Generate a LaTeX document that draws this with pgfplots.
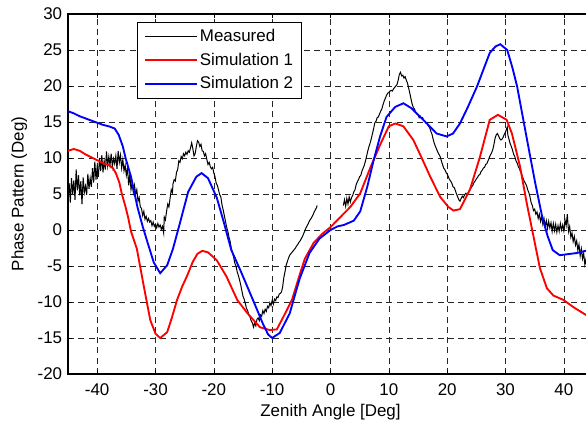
\documentclass[border=0pt]{standalone}
\usepackage{pgfplots}
\pgfplotsset{compat=1.18}
\usepackage{fontspec}
\setmainfont{Liberation Sans}

% Measured phase pattern, two segments (gap around boresight)
\pgfplotstableread{
x y
-45.0 4.0
-44.8 6.5
-44.6 3.8
-44.4 7.2
-44.2 5.0
-44.0 6.9
-43.8 4.2
-43.6 8.4
-43.4 5.5
-43.2 7.6
-43.0 4.8
-42.8 6.8
-42.6 3.6
-42.4 7.3
-42.2 5.2
-42.0 6.1
-41.8 4.9
-41.6 7.8
-41.4 5.7
-41.2 7.2
-41.0 6.0
-40.8 8.6
-40.6 6.6
-40.4 9.5
-40.2 7.0
-40.0 8.8
-39.8 7.4
-39.6 10.0
-39.4 8.2
-39.2 10.4
-39.0 8.0
-38.8 9.6
-38.6 8.4
-38.4 10.9
-38.2 8.9
-38.0 10.2
-37.8 9.0
-37.6 10.6
-37.4 8.8
-37.2 9.9
-37.0 9.2
-36.8 10.3
-36.6 8.5
-36.4 11.0
-36.2 9.4
-36.0 10.4
-35.8 8.6
-35.6 9.8
-35.4 8.2
-35.2 9.0
-35.0 7.6
-34.8 8.6
-34.6 6.2
-34.4 7.8
-34.2 5.6
-34.0 6.4
-33.8 5.2
-33.6 6.2
-33.4 5.0
-33.2 5.6
-33.0 4.0
-32.8 4.5
-32.6 3.2
-32.4 3.0
-32.2 2.0
-32.0 2.6
-31.8 1.5
-31.6 1.9
-31.4 1.2
-31.2 1.6
-31.0 1.1
-30.8 1.3
-30.6 0.6
-30.4 1.1
-30.2 0.5
-30.0 0.8
-29.8 0.3
-29.6 0.9
-29.4 0.4
-29.2 0.7
-29.0 0.1
-28.8 0.5
-28.6 -0.4
-28.5 1.8
-28.3 1.4
-28.1 2.6
-27.9 3.6
-27.7 3.2
-27.5 4.4
-27.3 5.6
-27.1 5.2
-27.0 6.4
-26.8 7.0
-26.6 6.8
-26.4 8.0
-26.2 8.4
-26.0 9.6
-25.8 9.4
-25.6 10.2
-25.4 9.9
-25.2 10.6
-25.0 10.3
-24.8 10.8
-24.6 10.5
-24.4 11.0
-24.2 10.8
-24.0 11.4
-23.8 12.1
-23.6 11.3
-23.4 10.3
-23.2 10.6
-23.0 11.6
-22.8 12.4
-22.6 12.2
-22.4 11.6
-22.2 11.9
-22.0 11.0
-21.8 10.9
-21.6 10.3
-21.4 10.6
-21.2 9.8
-21.0 9.1
-20.8 9.4
-20.6 8.8
-20.4 8.5
-20.2 8.7
-20.0 7.9
-19.8 7.4
-19.6 6.5
-19.4 6.2
-19.2 5.6
-19.0 4.9
-18.8 4.6
-18.6 3.5
-18.4 2.8
-18.2 2.0
-18.0 1.2
-17.8 0.4
-17.6 -0.2
-17.4 -1.0
-17.2 -1.6
-17.0 -2.6
-16.8 -3.1
-16.6 -3.8
-16.4 -4.6
-16.2 -5.0
-16.0 -5.8
-15.8 -6.3
-15.6 -6.9
-15.4 -7.6
-15.2 -8.4
-15.0 -9.2
-14.8 -9.6
-14.6 -10.2
-14.4 -10.9
-14.2 -11.2
-14.0 -11.8
-13.8 -12.1
-13.6 -12.6
-13.4 -12.9
-13.2 -13.5
-13.0 -12.9
-12.8 -13.3
-12.6 -12.4
-12.4 -12.2
-12.2 -12.6
-12.0 -11.8
-11.8 -12.0
-11.6 -11.2
-11.4 -11.6
-11.2 -11.0
-11.0 -11.3
-10.8 -10.6
-10.6 -10.8
-10.4 -10.1
-10.2 -10.5
-10.0 -9.8
-9.8 -10.3
-9.6 -9.6
-9.4 -9.8
-9.2 -9.3
-9.0 -9.4
-8.8 -8.9
-8.6 -8.8
-8.4 -8.6
-8.2 -7.9
-8.0 -6.6
-7.8 -5.8
-7.6 -4.9
-7.4 -4.4
-7.2 -3.9
-7.0 -3.5
-6.8 -3.3
-6.6 -3.1
-6.4 -2.9
-6.2 -2.7
-6.0 -2.5
-5.8 -2.2
-5.6 -2.0
-5.4 -1.7
-5.2 -1.5
-5.0 -1.2
-4.8 -0.9
-4.6 -0.5
-4.4 -0.1
-4.2 0.3
-4.0 0.6
-3.8 0.9
-3.6 1.3
-3.4 1.5
-3.2 1.8
-3.0 2.1
-2.8 2.5
-2.6 2.8
-2.4 3.1
-2.3 3.4
}\measA

\pgfplotstableread{
x y
2.2 3.4
2.4 4.2
2.6 3.3
2.8 4.4
3.0 3.6
3.2 4.6
3.4 3.9
3.6 4.5
3.8 4.8
4.0 5.3
4.2 5.6
4.4 6.3
4.6 6.7
4.8 7.0
5.0 7.4
5.2 7.6
5.4 8.2
5.6 8.6
5.8 9.0
6.0 9.6
6.2 10.3
6.4 11.0
6.6 11.6
6.8 12.1
7.0 12.7
7.2 13.4
7.4 14.1
7.6 14.9
7.8 15.1
8.0 15.6
8.2 15.7
8.4 16.1
8.6 16.5
8.8 16.8
9.0 17.4
9.2 17.9
9.4 18.3
9.6 18.7
9.8 19.0
10.0 19.1
10.2 19.3
10.4 19.4
10.6 19.3
10.8 19.6
11.0 19.8
11.2 20.0
11.4 20.2
11.6 20.8
11.8 21.6
12.0 21.9
12.2 21.4
12.4 21.5
12.6 21.1
12.8 21.3
13.0 20.8
13.2 20.4
13.4 19.7
13.6 19.0
13.8 18.2
14.0 17.5
14.2 17.0
14.4 16.8
14.6 16.3
14.8 16.1
15.0 16.0
15.2 15.6
15.4 15.8
15.6 15.5
15.8 15.6
16.0 15.2
16.2 15.1
16.4 14.8
16.6 14.9
16.8 14.4
17.0 14.2
17.2 13.7
17.4 13.3
17.6 12.6
17.8 12.0
18.0 11.6
18.2 11.2
18.4 10.8
18.6 10.5
18.8 10.2
19.0 9.6
19.2 9.1
19.4 8.6
19.6 8.4
19.8 8.0
20.0 7.8
20.2 7.4
20.4 7.0
20.6 6.8
20.8 6.5
21.0 6.0
21.2 5.9
21.4 5.5
21.6 5.0
21.8 4.6
22.0 4.2
22.2 4.0
22.4 4.4
22.6 4.7
22.8 4.5
23.0 4.9
23.2 5.1
23.4 4.9
23.6 5.2
23.8 5.5
24.0 5.7
24.2 6.0
24.4 6.2
24.6 6.6
24.8 6.8
25.0 7.1
25.2 7.3
25.4 7.6
25.6 7.7
25.8 8.1
26.0 8.3
26.2 8.6
26.4 8.7
26.6 9.1
26.8 9.2
27.0 9.6
27.2 10.0
27.4 10.4
27.6 10.7
27.8 11.1
28.0 11.8
28.2 12.7
28.4 13.2
28.6 13.4
28.8 13.1
29.0 12.7
29.2 12.5
29.4 12.6
29.6 12.9
29.8 13.3
30.0 13.6
30.2 14.1
30.3 14.3
30.4 13.2
30.6 12.6
30.8 12.0
31.0 11.6
31.2 11.1
31.4 10.5
31.6 10.2
31.8 9.6
32.0 9.3
32.2 8.8
32.4 8.5
32.6 8.0
32.8 7.7
33.0 7.2
33.2 6.8
33.4 6.5
33.6 6.2
33.8 5.6
34.0 5.2
34.2 4.6
34.4 3.8
34.6 3.4
34.8 2.7
35.0 2.9
35.2 2.2
35.4 2.5
35.6 1.6
35.8 2.2
36.0 1.2
36.2 1.9
36.4 0.8
36.6 1.6
36.8 0.5
37.0 1.3
37.2 0.2
37.4 1.2
37.6 0.3
37.8 1.0
38.0 -0.2
38.2 0.9
38.4 -0.1
38.6 0.8
38.8 -0.3
39.0 0.6
39.2 -0.2
39.4 0.9
39.6 0.0
39.8 0.7
40.0 -0.1
40.2 1.4
40.4 0.6
40.6 2.2
40.8 -0.2
41.0 0.5
41.2 -1.0
41.4 -0.4
41.6 -1.6
41.8 -0.9
42.0 -2.1
42.2 -1.5
42.4 -2.8
42.6 -2.0
42.8 -3.6
43.0 -2.6
43.2 -4.0
43.4 -3.2
43.6 -4.8
43.8 -4.0
44.0 -5.8
}\measB

% Simulation 1
\pgfplotstableread{
x y
-45.0 11.0
-44.0 11.25
-43.0 11.0
-42.0 10.5
-41.0 10.1
-40.0 9.7
-39.0 9.3
-38.0 9.0
-37.3 8.6
-36.8 7.9
-36.2 6.6
-35.8 5.1
-35.2 3.4
-34.7 1.8
-34.2 -0.2
-33.2 -2.6
-32.1 -7.4
-30.9 -12.5
-30.0 -14.4
-29.2 -15.0
-28.0 -14.2
-27.2 -12.2
-26.3 -9.7
-25.4 -7.8
-24.6 -6.4
-23.6 -4.4
-22.8 -3.3
-22.0 -2.9
-21.0 -3.1
-19.5 -4.2
-17.8 -6.5
-16.0 -9.7
-14.3 -11.5
-12.1 -13.5
-10.4 -13.9
-9.2 -13.8
-8.1 -12.1
-6.6 -9.7
-5.2 -6.0
-4.4 -4.0
-2.9 -1.8
-1.5 -0.6
0.0 0.4
1.7 1.8
3.4 3.2
5.1 5.1
6.9 8.8
8.6 12.0
10.0 14.4
11.1 14.8
12.5 14.4
14.2 12.5
15.3 10.6
17.1 7.4
18.8 4.6
20.2 3.2
21.1 2.7
22.2 2.9
23.9 5.6
25.6 10.1
27.3 15.3
28.7 16.0
30.2 15.3
31.1 13.4
32.5 8.8
33.6 3.9
34.8 -0.9
35.9 -5.3
37.1 -8.1
38.2 -9.1
39.9 -9.7
41.8 -10.8
43.8 -11.8
44.2 -12.0
}\simA

% Simulation 2
\pgfplotstableread{
x y
-45.0 16.5
-44.0 16.2
-43.0 15.8
-42.0 15.5
-41.0 15.2
-40.0 14.9
-39.0 14.6
-38.0 14.4
-37.0 14.1
-36.3 13.2
-35.6 11.6
-35.1 9.9
-34.2 7.4
-33.1 3.2
-32.2 0.5
-31.3 -1.9
-30.3 -4.5
-29.2 -6.0
-28.0 -4.9
-27.0 -2.6
-25.8 1.0
-24.4 5.3
-23.0 7.4
-22.1 7.9
-21.0 7.2
-19.5 4.5
-18.4 1.4
-17.0 -2.8
-15.5 -5.5
-13.3 -9.7
-11.6 -13.0
-10.7 -14.5
-10.0 -15.0
-8.7 -14.3
-7.0 -11.6
-5.3 -6.8
-3.6 -3.2
-1.9 -1.2
0.0 0.0
1.2 0.5
2.3 0.7
4.0 1.3
5.1 2.6
6.3 6.0
7.4 9.7
8.5 13.0
9.6 15.7
11.1 17.1
12.5 17.6
13.9 16.9
15.9 15.3
18.2 13.4
19.9 13.0
21.0 13.4
22.2 14.8
23.5 17.0
25.1 19.9
27.3 24.6
28.3 25.5
29.1 25.8
30.3 25.0
31.2 22.5
32.0 19.9
33.7 12.5
35.1 6.5
36.3 1.8
37.2 -0.8
38.1 -2.8
39.3 -3.5
42.2 -3.2
44.2 -2.8
}\simB

\begin{document}
\fontsize{12.7pt}{15pt}\selectfont
\begin{tikzpicture}
\begin{axis}[
  scale only axis,
  width=393.75pt, height=270pt,
  xmin=-45, xmax=45, ymin=-20, ymax=30,
  xtick={-40,-30,...,40},
  ytick={-20,-15,...,30},
  tick align=inside,
  major tick length=3pt,
  tick style={black, line width=0.5pt},
  axis line style={black, line width=0.8pt},
  grid=major,
  major grid style={black!85, line width=0.45pt, dash pattern=on 4.5pt off 3.2pt},
  /pgf/number format/assume math mode=true,
  tick label style={font=\fontsize{12.7pt}{15pt}\selectfont},
  xticklabel style={yshift=-3pt},
  label style={font=\fontsize{12.7pt}{15pt}\selectfont},
  every axis x label/.style={at={(rel axis cs:0.5,0)}, yshift=-28.5pt, anchor=center},
  every axis y label/.style={at={(rel axis cs:0,0.5)}, xshift=-36.5pt, rotate=90, anchor=center},
  xlabel={Zenith Angle [Deg]},
  ylabel={Phase Pattern (Deg)},
  legend style={
    at={(0.1314,0.978)}, anchor=north west,
    draw=black, line width=0.6pt, fill=white,
    font=\fontsize{12.7pt}{15pt}\selectfont,
    inner xsep=5pt, inner ysep=2pt,
    row sep=0pt,
    nodes={inner sep=1.5pt, minimum height=17.6pt},
    /tikz/every even column/.append style={column sep=8pt},
  },
  legend cell align=left,
  legend image code/.code={\draw[#1] (0pt,0pt) -- (39pt,0pt);},
  clip=true,
]
\addplot[black, line width=0.75pt] table[x=x, y=y] {\measA};
\addlegendentry{Measured}
\addplot[black, line width=0.75pt, forget plot] table[x=x, y=y] {\measB};
\addplot[red, line width=1.4pt] table[x=x, y=y] {\simA};
\addlegendentry{Simulation 1}
\addplot[blue, line width=1.4pt] table[x=x, y=y] {\simB};
\addlegendentry{Simulation 2}
\coordinate (bl) at (rel axis cs:0,0);
\end{axis}
\pgfresetboundingbox
\path ([shift={(-51pt,-38.25pt)}]bl) rectangle ([shift={(388.5pt,280.5pt)}]bl);
\end{tikzpicture}
\end{document}
